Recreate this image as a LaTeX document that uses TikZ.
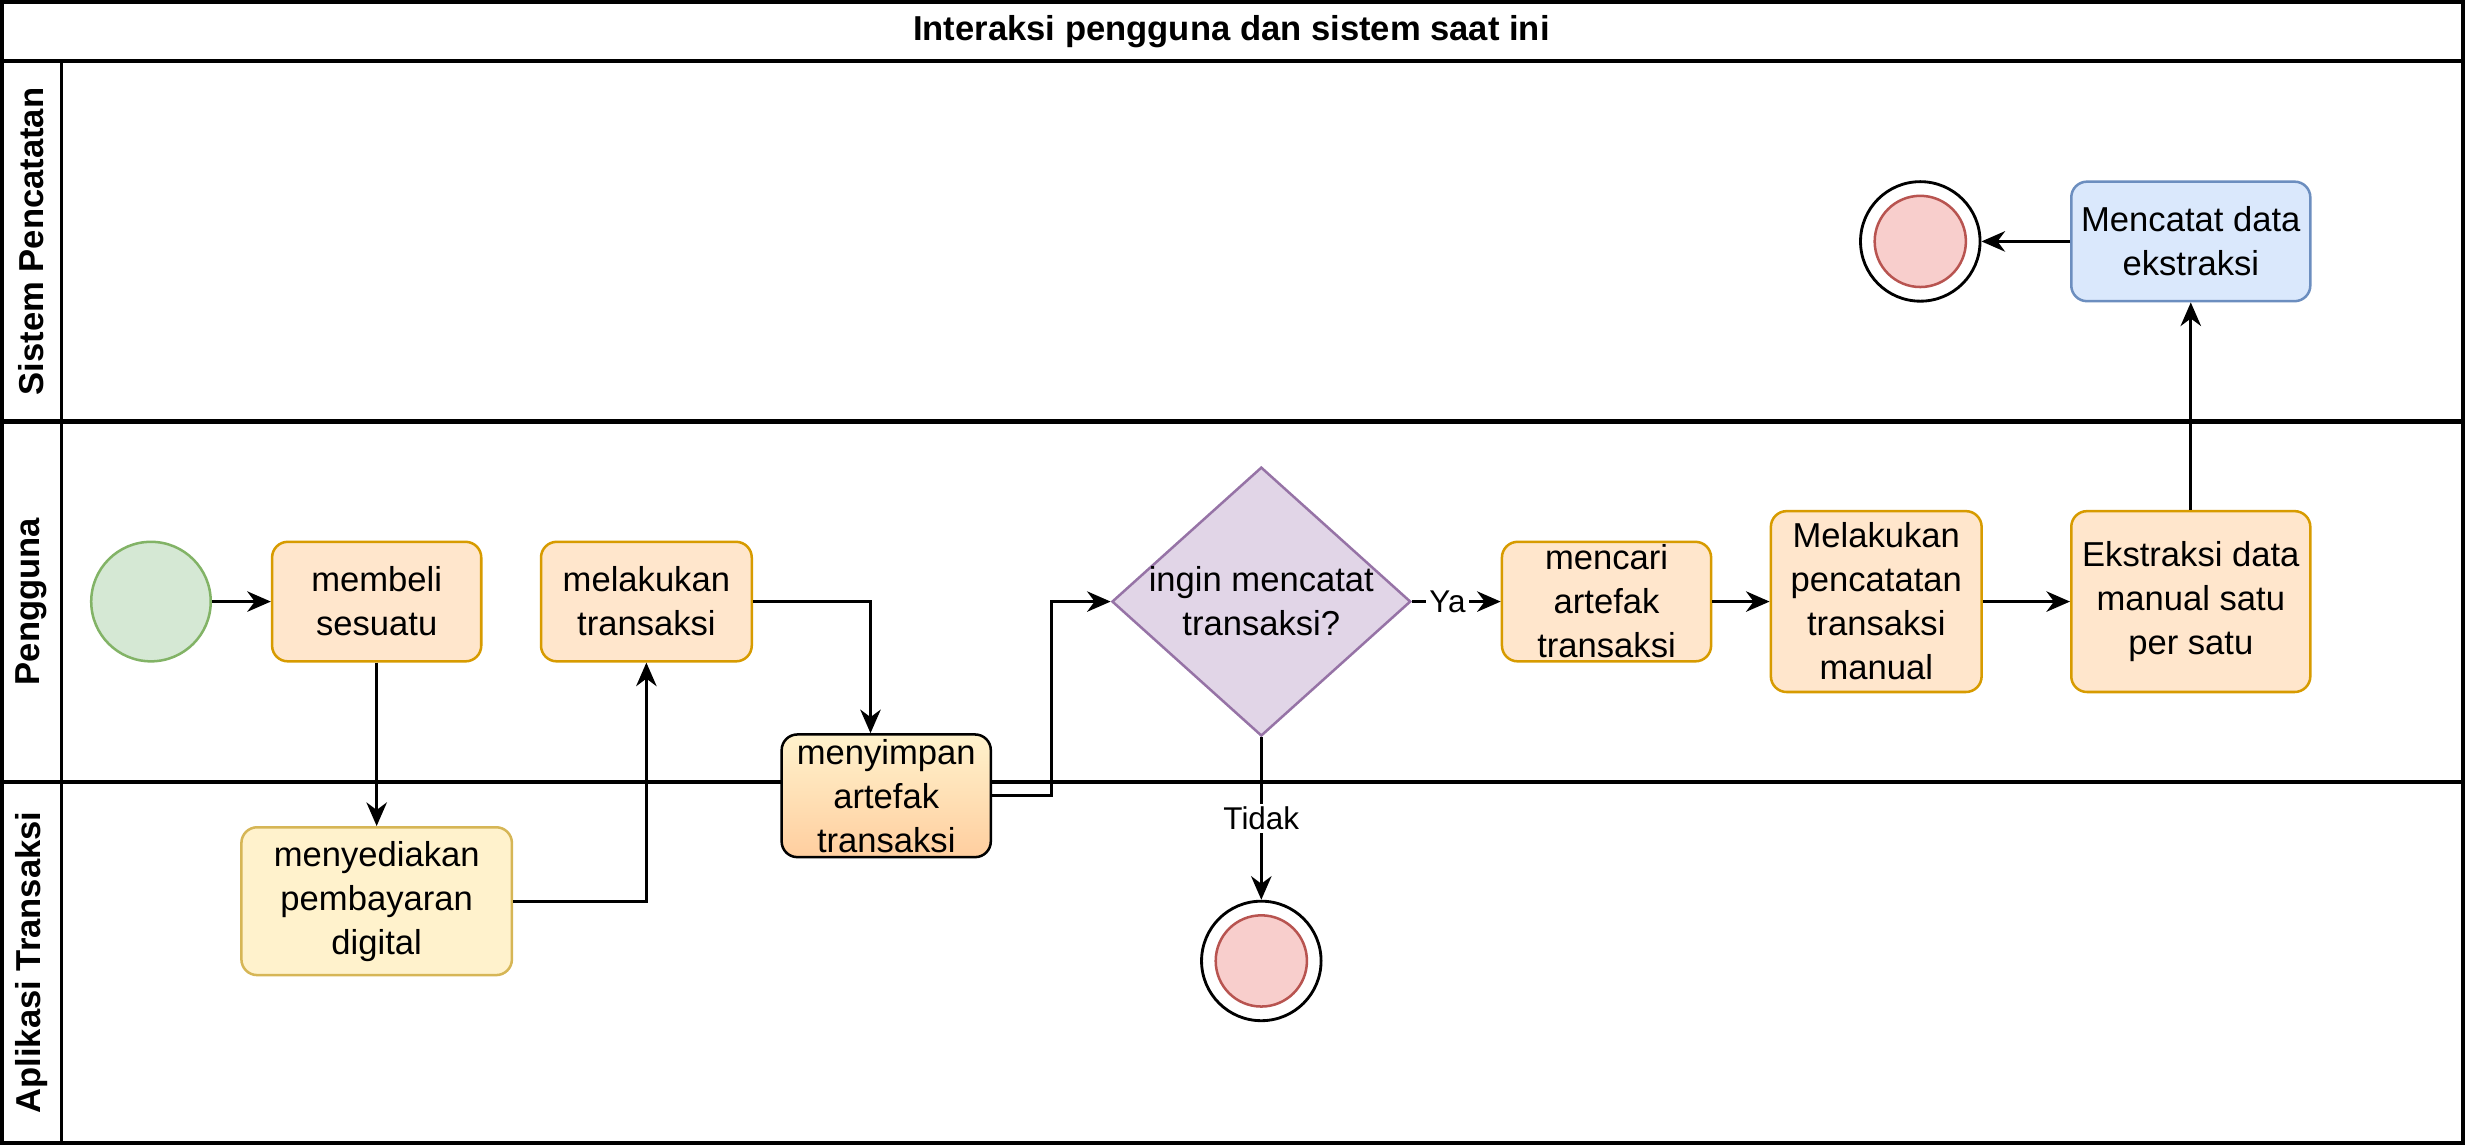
\documentclass[tikz,border=0pt]{standalone}
\usepackage{fontspec}
\setmainfont{Liberation Sans}
\usetikzlibrary{shapes.geometric,arrows.meta,calc}
\definecolor{orfill}{HTML}{FFE6CC}
\definecolor{orline}{HTML}{D79B00}
\definecolor{yefill}{HTML}{FFF2CC}
\definecolor{yeline}{HTML}{D6B656}
\definecolor{grfill}{HTML}{D5E8D4}
\definecolor{grline}{HTML}{82B366}
\definecolor{pufill}{HTML}{E1D5E7}
\definecolor{puline}{HTML}{9673A6}
\definecolor{blfill}{HTML}{DAE8FC}
\definecolor{blline}{HTML}{6C8EBF}
\definecolor{rdfill}{HTML}{F8CECC}
\definecolor{rdline}{HTML}{B85450}
\definecolor{gradbot}{HTML}{FFCE9F}
\begin{document}
\begin{tikzpicture}[x=0.5pt,y=-0.5pt,
  font=\fontsize{11}{14}\selectfont,
  box/.style={draw, rounded corners=5pt, line width=0.8pt, align=center, inner sep=0pt},
  task/.style={box, fill=orfill, draw=orline},
  conn/.style={line width=0.9pt, -{Stealth[length=7.5pt,width=6.5pt,inset=2.4pt]}},
  lane/.style={line width=1.3pt},
  lanelabel/.style={rotate=90, font=\fontsize{11}{14}\selectfont\bfseries},
  endouter/.style={circle, draw, line width=0.9pt, fill=white, minimum size=38pt, inner sep=0pt},
  endinner/.style={circle, draw=rdline, fill=rdfill, line width=0.8pt, minimum size=29pt, inner sep=0pt},
  elabel/.style={fill=white, inner sep=1pt, font=\fontsize{10}{12}\selectfont}]
\useasboundingbox (0,0) rectangle (1568,729);
% swimlane frame
\draw[lane] (1,1) rectangle (1566,727);
\draw[lane] (1,39) -- (1566,39);
\draw[lane] (1,268) -- (1566,268);
\draw[lane] (1,497) -- (1566,497);
\draw[line width=0.8pt] (39,39) -- (39,727);
\node[font=\fontsize{11}{14}\selectfont\bfseries] (title) at (783,20) {Interaksi pengguna dan sistem saat ini};
\node[lanelabel] (l1) at (20,153.5) {Sistem Pencatatan};
\node[lanelabel] (l2) at (20,382.5) {Pengguna};
\node[lanelabel] (l3) at (20,612) {Aplikasi Transaksi};
% nodes
\node[circle, draw=grline, fill=grfill, line width=0.8pt, minimum size=38pt, inner sep=0pt] (start) at (96,382.5) {};
\node[task, minimum width=66.5pt, minimum height=38pt] (buy) at (239.5,382.5) {membeli\\sesuatu};
\node[task, minimum width=67pt, minimum height=38pt] (trx) at (411,382.5) {melakukan\\transaksi};
\node[box, fill=yefill, draw=yeline, minimum width=86pt, minimum height=47pt] (pay) at (239.5,573) {menyediakan\\pembayaran\\digital};
\node[box, draw=black, top color=yefill, bottom color=gradbot, minimum width=66.5pt, minimum height=39pt] (save) at (563.5,506) {menyimpan\\artefak\\transaksi};
\node[diamond, draw=puline, fill=pufill, line width=0.8pt, minimum width=95pt, minimum height=85.5pt, inner sep=0pt] (dec) at (802,382.5) {};
\node[align=center] (dectext) at (dec) {ingin mencatat\\transaksi?};
\node[task, minimum width=66.5pt, minimum height=38pt] (find) at (1021.5,382.5) {mencari\\artefak\\transaksi};
\node[task, minimum width=67pt, minimum height=57.5pt] (man) at (1193,382.5) {Melakukan\\pencatatan\\transaksi\\manual};
\node[task, minimum width=76pt, minimum height=57.5pt] (ext) at (1393,382.5) {Ekstraksi data\\manual satu\\per satu};
\node[box, fill=blfill, draw=blline, minimum width=76pt, minimum height=38pt] (rec) at (1393,153.5) {Mencatat data\\ekstraksi};
\node[endouter] (end1) at (1221,153.5) {};
\node[endinner] (end1i) at (end1) {};
\node[endouter] (end2) at (802,611) {};
\node[endinner] (end2i) at (end2) {};
% connectors
\draw[conn] (start) -- (buy);
\draw[conn] (buy.south) -- (pay.north);
\draw[conn] (pay.east) -| (trx.south);
\draw[conn] (trx.east) -| ([xshift=-5pt]save.north);
\draw[conn] (save.east) -- ++(19pt,0) |- (dec.west);
\draw[conn] (dec.east) -- node[elabel, pos=0.4] {Ya} (find.west);
\draw[conn] (find) -- (man);
\draw[conn] (man) -- (ext);
\draw[conn] (ext.north) -- (rec.south);
\draw[conn] (rec.west) -- (end1.east);
\draw[conn] (dec.south) -- node[elabel] {Tidak} (end2.north);
\end{tikzpicture}
\end{document}
